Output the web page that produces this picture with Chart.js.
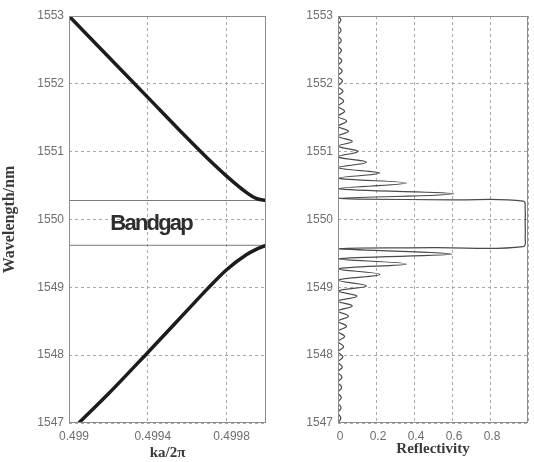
<!DOCTYPE html>
<html>
<head>
<meta charset="utf-8">
<script src="https://cdn.jsdelivr.net/npm/chart.js@4.4.1/dist/chart.umd.min.js"></script>
<style>
  html, body { margin: 0; padding: 0; background: #fff; }
  #wrap { position: relative; width: 534px; height: 462px; overflow: hidden; }
  .box { position: absolute; top: 0; height: 462px; }
</style>
</head>
<body>
<div id="wrap">
  <div class="box" style="left:0;width:280px"><canvas id="band"></canvas></div>
  <div class="box" style="left:280px;width:254px"><canvas id="refl"></canvas></div>
</div>
<script>
// --- data ---
const wlTicks = [1547, 1548, 1549, 1550, 1551, 1552, 1553];

// upper band (ka/2pi, wavelength nm)
const upperK  = [0.4990, 0.4992, 0.4994, 0.4996, 0.4997, 0.4998, 0.4999, 0.49995, 0.5000];
const upperWl = [1553.0, 1552.4, 1551.8, 1551.2, 1550.91, 1550.64, 1550.4, 1550.31, 1550.28];

// lower band
const lowerK  = [0.49905, 0.4992, 0.4994, 0.4996, 0.4997, 0.4998, 0.4999, 0.49995, 0.5000];
const lowerWl = [1547.0, 1547.43, 1548.04, 1548.66, 1548.97, 1549.26, 1549.48, 1549.56, 1549.62];

// band gap edges
const gapTop = 1550.28;
const gapBottom = 1549.62;

// reflectivity spectrum, from 1547 nm upward
const reflWl = [
  1547.0, 1547.075, 1547.15, 1547.225, 1547.30, 1547.375, 1547.45, 1547.525, 1547.60, 1547.675,
  1547.75, 1547.825, 1547.90, 1547.975, 1548.05, 1548.125, 1548.20, 1548.275, 1548.35, 1548.425,
  1548.50, 1548.575, 1548.65, 1548.725, 1548.795, 1548.87, 1548.945, 1549.02, 1549.105, 1549.19,
  1549.27, 1549.345, 1549.42, 1549.49, 1549.57, 1549.585, 1549.60, 1549.75, 1549.95, 1550.15,
  1550.27, 1550.29, 1550.30, 1550.31,
  1550.38, 1550.455, 1550.537, 1550.61, 1550.684, 1550.765, 1550.843, 1550.926, 1551.004, 1551.081,
  1551.151, 1551.228, 1551.30, 1551.375, 1551.449, 1551.522, 1551.596, 1551.67, 1551.745, 1551.82,
  1551.89, 1551.965, 1552.04, 1552.115, 1552.19, 1552.265, 1552.34, 1552.415, 1552.49, 1552.565,
  1552.64, 1552.715, 1552.79, 1552.865, 1552.94, 1553.0
];
const reflR = [
  0.0, 0.015, 0.0, 0.016, 0.0, 0.017, 0.0, 0.019, 0.0, 0.021,
  0.0, 0.023, 0.0, 0.026, 0.0, 0.03, 0.0, 0.035, 0.0, 0.045,
  0.0, 0.055, 0.0, 0.075, 0.0, 0.10, 0.0, 0.15, 0.0, 0.22,
  0.0, 0.36, 0.0, 0.60, 0.0, 0.50, 0.975, 0.985, 0.985, 0.985,
  0.975, 0.60, 0.10, 0.0,
  0.61, 0.0, 0.36, 0.0, 0.22, 0.0, 0.15, 0.0, 0.105, 0.0,
  0.075, 0.0, 0.055, 0.0, 0.045, 0.0, 0.035, 0.0, 0.03, 0.0,
  0.026, 0.0, 0.024, 0.0, 0.022, 0.0, 0.02, 0.0, 0.018, 0.0,
  0.017, 0.0, 0.016, 0.0, 0.015, 0.0
];

const tickColor = '#6e6e6e';
const gridColor = '#a8a8a8';
const tickFont = { family: 'Liberation Sans', size: 12 };
const titleFont = { family: 'Liberation Serif', size: 15, weight: 'bold' };

const frame = {
  id: 'frame',
  afterDatasetsDraw(chart) {
    const { ctx, chartArea: a } = chart;
    ctx.save();
    ctx.strokeStyle = '#8c8c8c';
    ctx.lineWidth = 1;
    ctx.strokeRect(a.left + 0.5, a.top + 0.5, a.right - a.left - 1, a.bottom - a.top - 1);
    ctx.restore();
  }
};

const bandLabel = {
  id: 'bandLabel',
  afterDatasetsDraw(chart) {
    const { ctx, scales } = chart;
    ctx.save();
    ctx.font = 'bold 22px "Liberation Sans"';
    ctx.letterSpacing = '-1.8px';
    ctx.fillStyle = '#2e2e2e';
    ctx.textBaseline = 'alphabetic';
    ctx.fillText('Bandgap', scales.x.getPixelForValue(0.49921), scales.y.getPixelForValue(1549.85));
    ctx.restore();
  }
};

const yAxis = (width, title) => ({
  type: 'linear',
  min: 1547,
  max: 1553,
  afterBuildTicks: s => { s.ticks = wlTicks.map(v => ({ value: v })); },
  afterFit: s => { s.width = width; },
  ticks: { color: tickColor, font: tickFont, padding: 5, callback: v => String(v) },
  grid: { color: gridColor, drawTicks: false },
  border: { display: false, dash: [3, 3] },
  title: title ? { display: true, text: title, color: '#3a3a3a', font: { family: 'Liberation Serif', size: 16, weight: 'bold' }, padding: { top: 0, bottom: 0 } } : { display: false }
});

new Chart(document.getElementById('band'), {
  type: 'scatter',
  data: {
    datasets: [
      {
        data: upperK.map((k, i) => ({ x: k, y: upperWl[i] })),
        showLine: true, borderColor: '#1c1c1c', borderWidth: 3.5, pointRadius: 0,
        cubicInterpolationMode: 'monotone'
      },
      {
        data: lowerK.map((k, i) => ({ x: k, y: lowerWl[i] })),
        showLine: true, borderColor: '#1c1c1c', borderWidth: 3.5, pointRadius: 0,
        cubicInterpolationMode: 'monotone'
      },
      {
        data: [{ x: 0.499, y: gapTop }, { x: 0.5, y: gapTop }],
        showLine: true, borderColor: '#7a7a7a', borderWidth: 1, pointRadius: 0
      },
      {
        data: [{ x: 0.499, y: gapBottom }, { x: 0.5, y: gapBottom }],
        showLine: true, borderColor: '#7a7a7a', borderWidth: 1, pointRadius: 0
      }
    ]
  },
  options: {
    responsive: true,
    maintainAspectRatio: false,
    animation: false,
    layout: { padding: { top: 16, right: 14, left: 0, bottom: 0 } },
    plugins: { legend: { display: false }, tooltip: { enabled: false } },
    scales: {
      x: {
        type: 'linear',
        min: 0.499,
        max: 0.5,
        afterFit: s => { s.height = 39; },
        ticks: {
          stepSize: 0.0002,
          color: tickColor, font: tickFont, padding: 6, labelOffset: 5, maxRotation: 0,
          callback: (v, i) => (i % 2 === 0 && i < 5) ? String(Number(v.toFixed(4))) : ''
        },
        grid: { color: gridColor, drawTicks: false },
        border: { display: false, dash: [3, 3] },
        title: { display: true, text: 'ka/2π', color: '#3a3a3a', font: titleFont, padding: { top: 0, bottom: 0 } }
      },
      y: yAxis(69, 'Wavelength/nm')
    }
  },
  plugins: [frame, bandLabel]
});

new Chart(document.getElementById('refl'), {
  type: 'scatter',
  data: {
    datasets: [{
      data: reflR.map((r, i) => ({ x: r, y: reflWl[i] })),
      showLine: true, borderColor: '#4a4a4a', borderWidth: 1.2, pointRadius: 0, tension: 0.4
    }]
  },
  options: {
    responsive: true,
    maintainAspectRatio: false,
    animation: false,
    layout: { padding: { top: 16, right: 1, left: 0, bottom: 0 } },
    plugins: { legend: { display: false }, tooltip: { enabled: false } },
    scales: {
      x: {
        type: 'linear',
        min: 0,
        max: 1,
        afterFit: s => { s.height = 39; },
        ticks: {
          stepSize: 0.2,
          color: tickColor, font: tickFont, padding: 6, labelOffset: 2, maxRotation: 0,
          callback: v => v < 0.95 ? String(Number(v.toFixed(1))) : ''
        },
        grid: { color: gridColor, drawTicks: false },
        border: { display: false, dash: [3, 3] },
        title: { display: true, text: 'Reflectivity', color: '#3a3a3a', font: titleFont, padding: { top: 0, bottom: 4 } }
      },
      y: yAxis(58, null)
    }
  },
  plugins: [frame]
});
</script>
</body>
</html>
